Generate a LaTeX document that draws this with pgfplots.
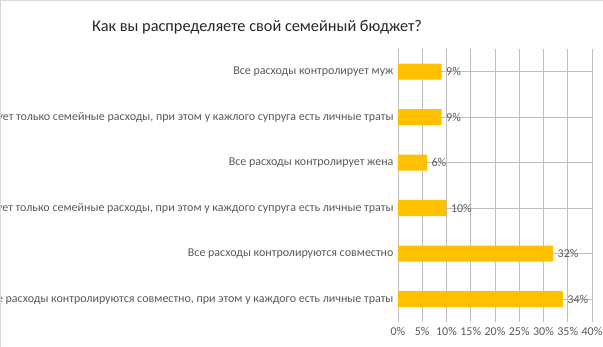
\documentclass[border=0pt]{standalone}
\usepackage{pgfplots}
\pgfplotsset{compat=1.18}
\usepackage{fontspec}
\setmainfont{Carlito}
\definecolor{bar}{HTML}{FFC000}
\definecolor{txt}{HTML}{595959}
\definecolor{grid}{HTML}{D9D9D9}
\begin{document}
\begin{tikzpicture}
\begin{axis}[
  at={(0,0)}, anchor=south west,
  scale only axis, width=194pt, height=273pt,
  xbar, bar width=16pt,
  xmin=0, xmax=40, ymin=-0.5, ymax=5.5,
  xtick={0,5,...,40},
  xticklabel={\pgfmathprintnumber{\tick}\%},
  /pgf/number format/assume math mode=true,
  ytick={0,...,5},
  yticklabels={
    Все расходы контролируются совместно{,} при этом у каждого есть личные траты,
    Все расходы контролируются совместно,
    Жена контролирует только семейные расходы{,} при этом у каждого супруга есть личные траты,
    Все расходы контролирует жена,
    Муж контролирует только семейные расходы{,} при этом у кажлого супруга есть личные траты,
    Все расходы контролирует муж},
  xmajorgrids, grid style={grid, line width=0.8pt},
  axis line style={draw=none},
  major tick length=0pt,
  tick label style={font=\fontsize{12}{14}\selectfont, text=txt},
  yticklabel style={xshift=-1pt},
  xticklabel style={yshift=-2pt},
  nodes near coords={\pgfmathprintnumber{\pgfplotspointmeta}\%},
  nodes near coords style={font=\fontsize{12}{14}\selectfont, text=txt, anchor=west, xshift=1pt},
  point meta=explicit symbolic,
]
\addplot[fill=bar, draw=none] coordinates {
  (34,0) [34]
  (32,1) [32]
  (10,2) [10]
  (6,3) [6]
  (9,4) [9]
  (9,5) [9]
};
\end{axis}
\node[font=\fontsize{16.3}{19}\selectfont, text=black!85] at (-141pt,295pt) {Как вы распределяете свой семейный бюджет?};
\draw[grid, line width=1pt] (-397.5pt,-25pt) -- (-397.5pt,321.5pt) -- (205pt,321.5pt);
\pgfresetboundingbox
\useasboundingbox (-398pt,-25pt) rectangle (205pt,322pt);
\end{tikzpicture}
\end{document}
